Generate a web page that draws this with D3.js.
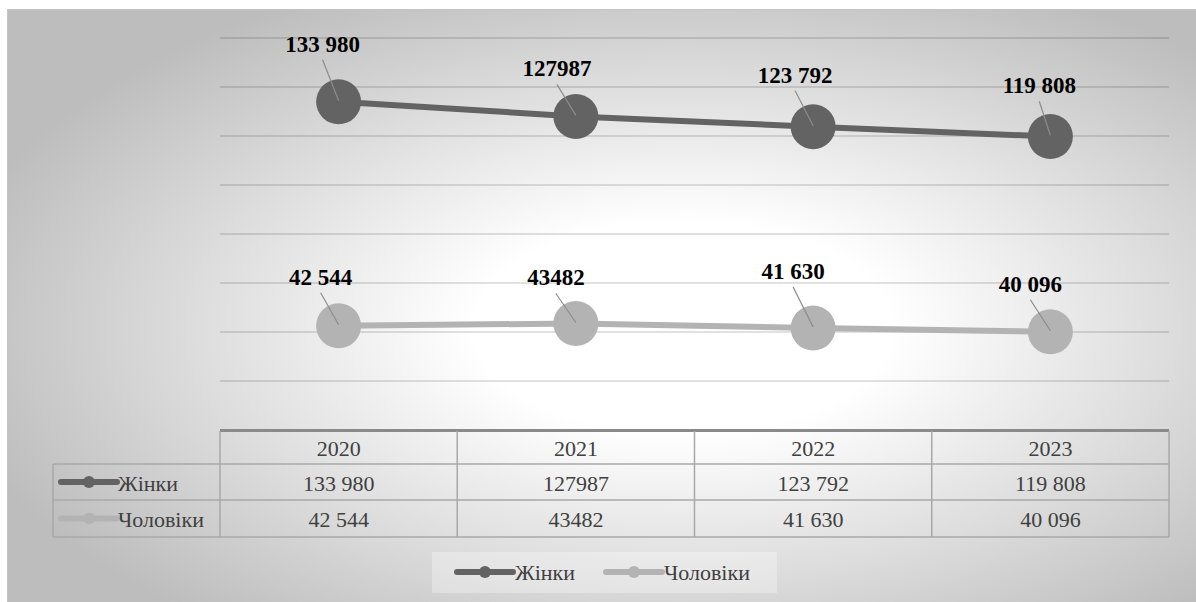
<!DOCTYPE html>
<html>
<head>
<meta charset="utf-8">
<script src="https://cdn.jsdelivr.net/npm/d3@7"></script>
<style>
  html, body { margin: 0; padding: 0; background: #ffffff; }
  svg { display: block; }
  #chart text { font-family: "Liberation Serif", "Times New Roman", Tinos, serif; }
</style>
</head>
<body>
<svg id="chart" width="1196" height="602"></svg>
<script>
// Chart data
const years = ["2020", "2021", "2022", "2023"];
const women = [133980, 127987, 123792, 119808];
const men = [42544, 43482, 41630, 40096];
const womenLabels = ["133 980", "127987", "123 792", "119 808"];
const menLabels = ["42 544", "43482", "41 630", "40 096"];
const seriesNames = ["Жінки", "Чоловіки"];
const yTicks = [0, 20000, 40000, 60000, 80000, 100000, 120000, 140000, 160000];

// Label placement relative to each marker (dx, baseline dy)
const womenLabelOffsets = [[-16, -50], [-19, -40], [-18, -44], [-11, -43]];
const menLabelOffsets = [[-18, -41], [-20, -38], [-20, -49], [-20, -40]];

const colors = { women: "#636363", men: "#b3b3b3" };
const serif = "Liberation Serif";

const svg = d3.select("#chart");
const W = 1196, H = 602;

// Background: radial gradient chart area
const defs = svg.append("defs");
const grad = defs.append("radialGradient")
  .attr("id", "bg")
  .attr("cx", "0.56").attr("cy", "0.52")
  .attr("r", "0.62");
grad.append("stop").attr("offset", "0").attr("stop-color", "#ffffff");
grad.append("stop").attr("offset", "0.28").attr("stop-color", "#ffffff");
grad.append("stop").attr("offset", "1").attr("stop-color", "#bdbdbd");

svg.append("rect")
  .attr("x", 7.5).attr("y", 9.5)
  .attr("width", W + 10).attr("height", H + 10)
  .attr("fill", "url(#bg)")
  .attr("stroke", "#c4c4c4").attr("stroke-width", 1);

// Scales
const plotLeft = 220, plotRight = 1169;
const x = d3.scaleBand().domain(years).range([plotLeft, plotRight]);
const y = d3.scaleLinear().domain([0, 160000]).range([430, 38]);
const cx = d => x(d) + x.bandwidth() / 2;

// Horizontal gridlines
svg.append("g")
  .selectAll("line")
  .data(yTicks.slice(1))
  .join("line")
  .attr("x1", plotLeft).attr("x2", plotRight)
  .attr("y1", d => y(d)).attr("y2", d => y(d))
  .attr("stroke", "#000000").attr("stroke-opacity", 0.16)
  .attr("stroke-width", 1.6);

// Series lines and markers
function drawSeries(values, color) {
  const pts = years.map((yr, i) => [cx(yr), y(values[i])]);
  svg.append("path")
    .attr("d", d3.line()(pts))
    .attr("fill", "none")
    .attr("stroke", color)
    .attr("stroke-width", 6)
    .attr("stroke-linejoin", "round");
  svg.append("g")
    .selectAll("circle")
    .data(pts)
    .join("circle")
    .attr("cx", d => d[0]).attr("cy", d => d[1])
    .attr("r", 22.5)
    .attr("fill", color);
}
drawSeries(men, colors.men);
drawSeries(women, colors.women);

// Data labels with leader lines
function drawLabels(values, labels, offsets) {
  const g = svg.append("g");
  years.forEach((yr, i) => {
    const px = cx(yr), py = y(values[i]);
    const lx = px + offsets[i][0], ly = py + offsets[i][1];
    g.append("line")
      .attr("x1", lx).attr("y1", ly + 8)
      .attr("x2", px).attr("y2", py - 1)
      .attr("stroke", "#8c8c8c").attr("stroke-width", 1.2);
    g.append("text")
      .attr("x", lx).attr("y", ly)
      .attr("text-anchor", "middle")
      .style("font-family", serif)
      .attr("font-size", 23)
      .attr("font-weight", "bold")
      .attr("fill", "#000000")
      .text(labels[i]);
  });
}
drawLabels(women, womenLabels, womenLabelOffsets);
drawLabels(men, menLabels, menLabelOffsets);

// Data table under the plot
const tableLeft = 53;
const rowTops = [430, 464, 500, 537];
const tbl = svg.append("g");
const gridColor = "#a8a8a8";

// horizontal rules
tbl.append("line").attr("x1", plotLeft).attr("x2", plotRight)
  .attr("y1", rowTops[0] + 0.5).attr("y2", rowTops[0] + 0.5)
  .attr("stroke", "#8a8a8a").attr("stroke-width", 3);
[rowTops[1], rowTops[2], rowTops[3]].forEach(ty => {
  tbl.append("line").attr("x1", tableLeft).attr("x2", plotRight)
    .attr("y1", ty).attr("y2", ty)
    .attr("stroke", gridColor).attr("stroke-width", 1.5);
});
// vertical rules
tbl.append("line").attr("x1", tableLeft).attr("x2", tableLeft)
  .attr("y1", rowTops[1]).attr("y2", rowTops[3])
  .attr("stroke", gridColor).attr("stroke-width", 1.5);
years.forEach(yr => {
  tbl.append("line").attr("x1", x(yr)).attr("x2", x(yr))
    .attr("y1", rowTops[0] + 1).attr("y2", rowTops[3])
    .attr("stroke", gridColor).attr("stroke-width", 1.5);
});
tbl.append("line").attr("x1", plotRight).attr("x2", plotRight)
  .attr("y1", rowTops[0] + 1).attr("y2", rowTops[3])
  .attr("stroke", gridColor).attr("stroke-width", 1.5);

const cellText = (tx, ty, str, anchor) => tbl.append("text")
  .attr("x", tx).attr("y", ty + 7.5)
  .attr("text-anchor", anchor || "middle")
  .style("font-family", serif)
  .attr("font-size", 22)
  .attr("fill", "#404040")
  .text(str);

const rowMid = i => (rowTops[i] + rowTops[i + 1]) / 2 + 1;
years.forEach((yr, i) => {
  cellText(cx(yr), rowMid(0), yr);
  cellText(cx(yr), rowMid(1), womenLabels[i]);
  cellText(cx(yr), rowMid(2), menLabels[i]);
});

// legend key: line with a dot
function legendKey(g, x0, yy, color) {
  g.append("line").attr("x1", x0).attr("x2", x0 + 56)
    .attr("y1", yy).attr("y2", yy)
    .attr("stroke", color).attr("stroke-width", 6)
    .attr("stroke-linecap", "round");
  g.append("circle").attr("cx", x0 + 28).attr("cy", yy).attr("r", 6)
    .attr("fill", color);
}
legendKey(tbl, 61, rowMid(1) - 1, colors.women);
legendKey(tbl, 61, rowMid(2) - 1, colors.men);
cellText(118, rowMid(1), seriesNames[0], "start");
cellText(118, rowMid(2), seriesNames[1], "start");

// Bottom legend
const leg = svg.append("g");
leg.append("rect").attr("x", 432).attr("y", 552)
  .attr("width", 345).attr("height", 41)
  .attr("fill", "#ffffff").attr("fill-opacity", 0.3);
legendKey(leg, 457, 572, colors.women);
legendKey(leg, 606, 572, colors.men);
[[515, seriesNames[0]], [664, seriesNames[1]]].forEach(([lx, s]) => {
  leg.append("text").attr("x", lx).attr("y", 580)
    .style("font-family", serif)
    .attr("font-size", 22)
    .attr("fill", "#404040")
    .text(s);
});
</script>
</body>
</html>
